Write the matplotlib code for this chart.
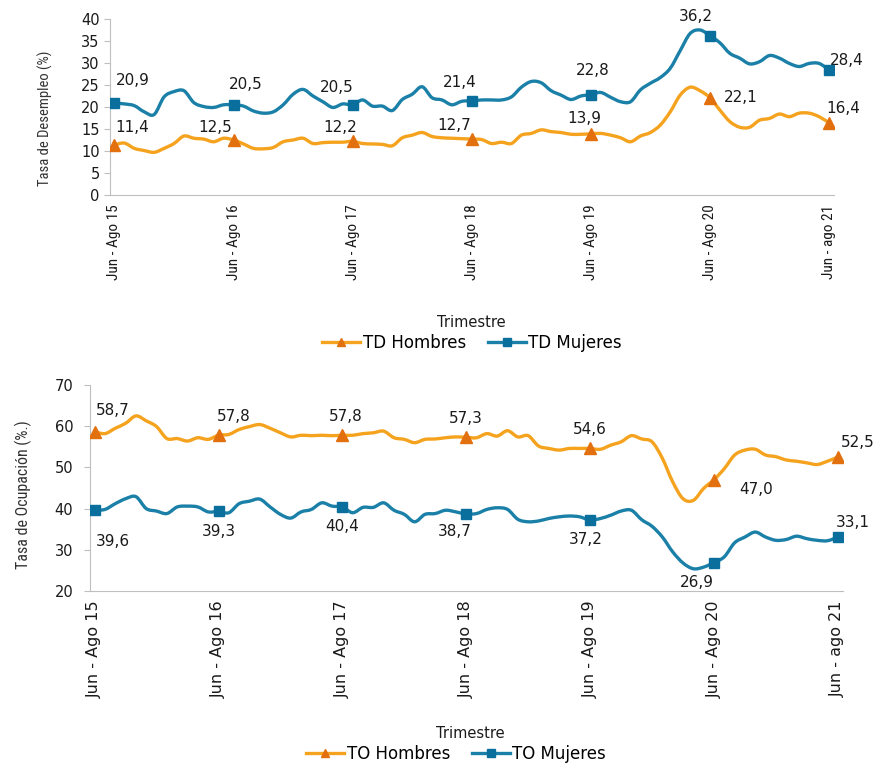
import matplotlib
matplotlib.use("Agg")
import matplotlib.pyplot as plt
from matplotlib.path import Path
from matplotlib.patches import PathPatch
from matplotlib.lines import Line2D

anios = ["15", "16", "17", "18", "19", "20"]
etiquetas = ["Jun - Ago " + a for a in anios] + ["Jun - ago 21"]

td_hombres = [11.4, 11.8, 10.6, 10.1, 9.7, 10.6, 11.7, 13.4, 12.9, 12.7, 12.1, 12.9,
              12.5, 11.6, 10.6, 10.5, 10.8, 12.1, 12.5, 12.9, 11.7, 11.9, 12.0, 12.0,
              12.2, 11.7, 11.6, 11.5, 11.2, 13.0, 13.6, 14.2, 13.3, 13.0, 12.9, 12.8,
              12.7, 12.6, 11.7, 12.0, 11.7, 13.6, 14.0, 14.8, 14.4, 14.2, 13.8, 13.8,
              13.9, 14.0, 13.6, 13.0, 12.1, 13.4, 14.2, 15.9, 18.9, 22.7, 24.5, 23.7,
              22.1, 19.3, 16.7, 15.4, 15.4, 17.0, 17.4, 18.4, 17.8, 18.6, 18.6, 17.8,
              16.4]
td_mujeres = [20.9, 20.7, 20.3, 18.9, 18.3, 22.3, 23.5, 23.7, 21.0, 20.1, 19.9, 20.5,
              20.5, 20.2, 19.1, 18.6, 18.9, 20.5, 22.9, 24.0, 22.5, 21.2, 19.9, 20.7,
              20.5, 21.6, 20.2, 20.2, 19.2, 21.7, 22.9, 24.6, 22.1, 21.6, 20.5, 21.3,
              21.4, 21.6, 21.6, 21.6, 22.3, 24.5, 25.8, 25.5, 23.7, 22.7, 21.7, 22.5,
              22.8, 23.3, 22.2, 21.2, 21.2, 23.9, 25.4, 26.7, 28.8, 32.8, 36.7, 37.5,
              36.2, 34.6, 32.2, 31.1, 29.8, 30.3, 31.7, 31.1, 29.9, 29.2, 29.9, 29.9,
              28.4]
to_hombres = [58.7, 58.2, 59.5, 60.7, 62.5, 61.3, 59.9, 57.0, 57.0, 56.4, 57.2, 56.8,
              57.8, 58.0, 59.2, 59.9, 60.4, 59.5, 58.4, 57.4, 57.8, 57.7, 57.8, 57.7,
              57.8, 57.8, 58.2, 58.4, 58.8, 57.2, 56.8, 56.0, 56.8, 56.9, 57.2, 57.4,
              57.3, 57.2, 58.2, 57.6, 58.9, 57.4, 57.7, 55.2, 54.6, 54.2, 54.6, 54.6,
              54.6, 54.4, 55.4, 56.2, 57.7, 56.9, 56.2, 52.2, 46.5, 42.4, 42.0, 44.9,
              47.0, 49.7, 53.0, 54.2, 54.4, 53.0, 52.6, 51.8, 51.5, 51.1, 50.7, 51.5,
              52.5]
to_mujeres = [39.6, 39.8, 41.2, 42.4, 42.9, 40.0, 39.4, 38.8, 40.4, 40.6, 40.4, 39.2,
              39.3, 39.0, 41.2, 41.8, 42.3, 40.4, 38.6, 37.7, 39.2, 39.8, 41.4, 40.6,
              40.4, 39.0, 40.3, 40.3, 41.4, 39.6, 38.6, 36.8, 38.6, 38.8, 39.6, 39.2,
              38.7, 38.8, 39.8, 40.2, 39.8, 37.4, 36.8, 37.0, 37.6, 38.0, 38.2, 38.0,
              37.2, 37.6, 38.4, 39.4, 39.6, 37.3, 35.7, 33.1, 29.5, 26.8, 25.4, 25.8,
              26.9, 28.3, 31.7, 33.1, 34.3, 33.1, 32.3, 32.5, 33.3, 32.7, 32.3, 32.2,
              33.1]

# desplazamiento (px) de cada etiqueta de dato respecto a su marcador
off_tdh = [(18, 17), (-18, 12), (-12, 14), (-18, 14), (-7, 15), (31, 0), (14, 14)]
off_tdm = [(18, 23), (12, 20), (-16, 17), (-12, 18), (2, 24), (-14, 19), (18, 10)]
off_toh = [(18, 21), (15, 19), (3, 19), (0, 19), (0, 19), (42, -10), (20, 15)]
off_tom = [(18, -31), (0, -20), (0, -20), (-11, -18), (-4, -19), (-17, -20), (15, 15)]

COND = ["Roboto Condensed", "DejaVu Sans"]
NUM = ["DejaVu Sans"]
C_OR, C_ORM = "#F5A31E", "#E3700E"
C_BL, C_BLM = "#1B80A8", "#0A6F9C"
GRIS = "#BFBFBF"
TXT = "#1a1a1a"

x = list(range(len(td_hombres)))
ticks = x[::12]

fig = plt.figure(figsize=(8.78, 7.63), dpi=100)


def curva(ax, ys, color):
    # línea suavizada (Catmull-Rom -> Bezier), como las de Excel
    n = len(ys)
    verts = [(x[0], ys[0])]
    codes = [Path.MOVETO]
    for i in range(n - 1):
        p0 = (x[max(i - 1, 0)], ys[max(i - 1, 0)])
        p1 = (x[i], ys[i])
        p2 = (x[i + 1], ys[i + 1])
        p3 = (x[min(i + 2, n - 1)], ys[min(i + 2, n - 1)])
        c1 = (p1[0] + (p2[0] - p0[0]) / 6, p1[1] + (p2[1] - p0[1]) / 6)
        c2 = (p2[0] - (p3[0] - p1[0]) / 6, p2[1] - (p3[1] - p1[1]) / 6)
        verts += [c1, c2, p2]
        codes += [Path.CURVE4] * 3
    ax.add_patch(PathPatch(Path(verts, codes), fill=False, ec=color, lw=2.4,
                           joinstyle="round", capstyle="round", zorder=3))


def panel(ax, y1, y2, off1, off2, ylim, yticks, nombres, xfont, fs_x, ypad,
          leg_xy, colsp):
    handles = []
    for serie, col, colm, mk, ms, nom in ((y1, C_OR, C_ORM, "^", 8, nombres[0]),
                                          (y2, C_BL, C_BLM, "s", 7.5, nombres[1])):
        curva(ax, serie, col)
        ax.plot(ticks, [serie[i] for i in ticks], ls="none", marker=mk, ms=ms,
                mfc=colm, mec=colm, zorder=4)
        handles.append(Line2D([], [], color=col, lw=2.4, marker=mk, ms=ms * 0.75,
                              mfc=colm, mec=colm, label=nom))
    for serie, offs in ((y1, off1), (y2, off2)):
        for k, i in enumerate(ticks):
            ax.annotate(f"{serie[i]:.1f}".replace(".", ","), (i, serie[i]),
                        xytext=offs[k], textcoords="offset pixels",
                        ha="center", va="center", fontsize=11,
                        family=NUM, color=TXT)
    ax.set_xlim(-0.45, 72.5)
    ax.set_ylim(*ylim)
    ax.set_yticks(yticks)
    ax.set_xticks(ticks)
    ax.set_xticklabels(etiquetas, rotation=90, family=xfont, fontsize=fs_x, color=TXT)
    ax.tick_params(axis="x", length=0, pad=7)
    ax.tick_params(axis="y", length=4.5, color=GRIS, pad=ypad, labelsize=10.5,
                   labelcolor=TXT)
    for t in ax.get_yticklabels():
        t.set_family(NUM)
    for s in ("top", "right"):
        ax.spines[s].set_visible(False)
    for s in ("left", "bottom"):
        ax.spines[s].set_color(GRIS)
    fig.legend(handles=handles, loc="center", bbox_to_anchor=leg_xy,
               ncol=2, frameon=False, prop={"family": NUM, "size": 12},
               handlelength=2.3, handletextpad=0.15, columnspacing=colsp)


ax1 = fig.add_axes([110 / 878, 1 - 195 / 763, 724 / 878, 176 / 763])
panel(ax1, td_hombres, td_mujeres, off_tdh, off_tdm, (0, 40), range(0, 41, 5),
      ["TD Hombres", "TD Mujeres"], COND, 11, 3, (472 / 878, 1 - 343 / 763), 1.3)
fig.text(45 / 878, 1 - 118 / 763, "Tasa de Desempleo (%)", rotation=90,
         ha="center", va="center", family=COND, fontsize=10.5, color="#333333")
fig.text(471 / 878, 1 - 323 / 763, "Trimestre", ha="center", va="center",
         family=NUM, fontsize=10.5, color=TXT)

ax2 = fig.add_axes([90 / 878, 1 - 591 / 763, 753 / 878, 206 / 763])
panel(ax2, to_hombres, to_mujeres, off_toh, off_tom, (20, 70), range(20, 71, 10),
      ["TO Hombres", "TO Mujeres"], NUM, 11.5, 7.5, (456 / 878, 1 - 754 / 763), 1.3)
fig.text(23 / 878, 1 - 495 / 763, "Tasa de Ocupación (%.)", rotation=90,
         ha="center", va="center", family=COND, fontsize=11.5, color="#333333")
fig.text(470 / 878, 1 - 733 / 763, "Trimestre", ha="center", va="center",
         family=NUM, fontsize=10.5, color=TXT)

fig.savefig("out.png", dpi=100)
